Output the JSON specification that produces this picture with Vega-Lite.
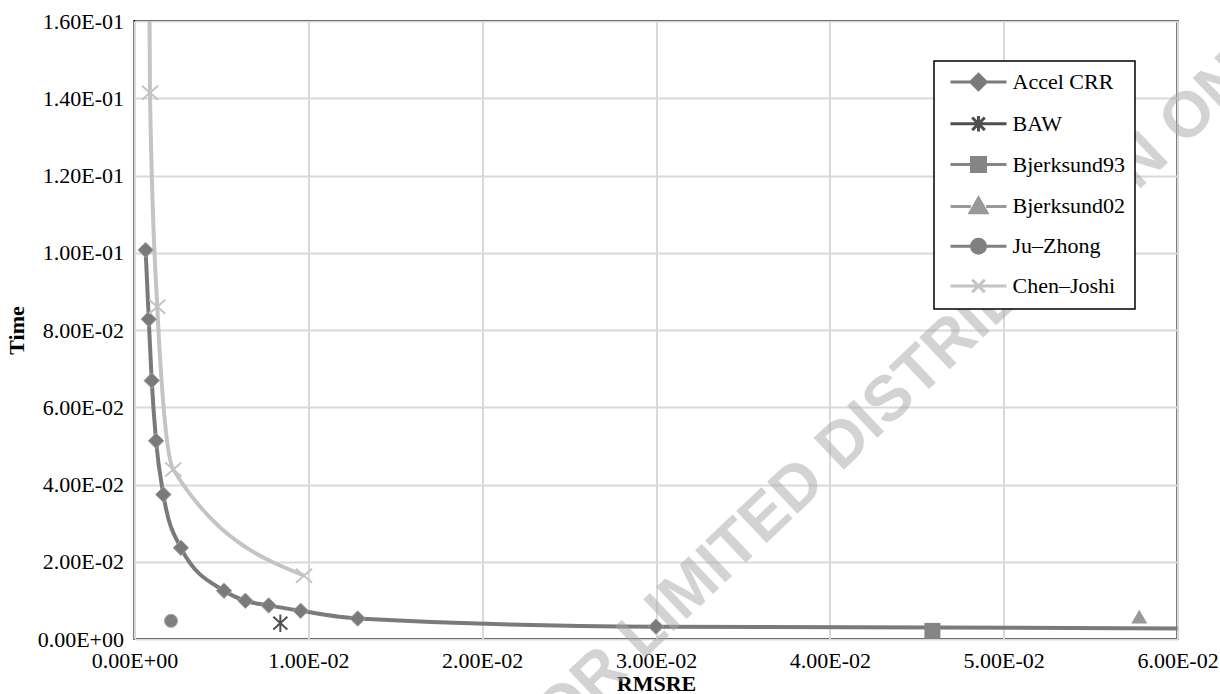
{
  "$schema": "https://vega.github.io/schema/vega-lite/v6.json",
  "width": 1043,
  "height": 618,
  "autosize": "none",
  "padding": {"left": 134.5, "top": 21, "right": 42.5, "bottom": 55},
  "background": "white",
  "config": {
    "view": {"stroke": "black", "strokeWidth": 2},
    "font": "Liberation Serif",
    "legend": {"labelFont": "Liberation Serif", "labelFontSize": 22, "labelColor": "black", "labelFontWeight": "normal"}
  },
  "datasets": {
    "pts": [
      {"series": "Accel CRR", "rmsre": 0.00064, "time": 0.1007},
      {"series": "Accel CRR", "rmsre": 0.00082, "time": 0.0828},
      {"series": "Accel CRR", "rmsre": 0.00099, "time": 0.0669},
      {"series": "Accel CRR", "rmsre": 0.00124, "time": 0.0513},
      {"series": "Accel CRR", "rmsre": 0.00166, "time": 0.0374},
      {"series": "Accel CRR", "rmsre": 0.00267, "time": 0.0236},
      {"series": "Accel CRR", "rmsre": 0.00515, "time": 0.0125},
      {"series": "Accel CRR", "rmsre": 0.00638, "time": 0.0099},
      {"series": "Accel CRR", "rmsre": 0.00772, "time": 0.0087},
      {"series": "Accel CRR", "rmsre": 0.00956, "time": 0.0073},
      {"series": "Accel CRR", "rmsre": 0.01284, "time": 0.0053},
      {"series": "Accel CRR", "rmsre": 0.0300, "time": 0.0032},
      {"series": "Accel CRR", "rmsre": 0.0900, "time": 0.0024},
      {"series": "BAW", "rmsre": 0.00839, "time": 0.0041},
      {"series": "Bjerksund93", "rmsre": 0.0459, "time": 0.0021},
      {"series": "Bjerksund02", "rmsre": 0.0578, "time": 0.0058},
      {"series": "Ju–Zhong", "rmsre": 0.0021, "time": 0.0047},
      {"series": "Chen–Joshi", "rmsre": 0.00083, "time": 0.19},
      {"series": "Chen–Joshi", "rmsre": 0.00089, "time": 0.1414},
      {"series": "Chen–Joshi", "rmsre": 0.00131, "time": 0.0860},
      {"series": "Chen–Joshi", "rmsre": 0.00223, "time": 0.0439},
      {"series": "Chen–Joshi", "rmsre": 0.00975, "time": 0.0164}
    ],
    "mark": [
      {"rmsre": 0.04443, "time": 0.06607, "label": "FOR LIMITED DISTRIBUTION ONLY"}
    ]
  },
  "encoding": {
    "x": {
      "field": "rmsre", "type": "quantitative",
      "scale": {"domain": [0, 0.06], "nice": false, "zero": false},
      "axis": {
        "title": "RMSRE",
        "values": [0, 0.01, 0.02, 0.03, 0.04, 0.05, 0.06],
        "labelExpr": "replace(replace(format(datum.value, '.2e'), 'e-', 'E-0'), 'e+', 'E+0')",
        "grid": true, "gridColor": "#d9d9d9", "gridWidth": 2,
        "ticks": false, "domain": false,
        "labelFont": "Liberation Serif", "labelFontSize": 22, "labelColor": "black",
        "labelPadding": 11, "labelFlush": false, "labelOverlap": false,
        "titleFont": "Liberation Serif", "titleFontSize": 22, "titleFontWeight": "bold",
        "titleColor": "black", "titlePadding": 2
      }
    },
    "y": {
      "field": "time", "type": "quantitative",
      "scale": {"domain": [0, 0.16], "nice": false, "zero": false},
      "axis": {
        "title": "Time",
        "values": [0, 0.02, 0.04, 0.06, 0.08, 0.1, 0.12, 0.14, 0.16],
        "labelExpr": "replace(replace(format(datum.value, '.2e'), 'e-', 'E-0'), 'e+', 'E+0')",
        "grid": true, "gridColor": "#d9d9d9", "gridWidth": 2,
        "ticks": false, "domain": false,
        "labelFont": "Liberation Serif", "labelFontSize": 22, "labelColor": "black",
        "labelPadding": 11, "labelFlush": false, "labelOverlap": false,
        "titleFont": "Liberation Serif", "titleFontSize": 22, "titleFontWeight": "bold",
        "titleColor": "black", "titlePadding": 9
      }
    },
    "color": {
      "field": "series", "type": "nominal",
      "scale": {
        "domain": ["Accel CRR", "BAW", "Bjerksund93", "Bjerksund02", "Ju–Zhong", "Chen–Joshi"],
        "range": ["#7a7a7a", "#4f4f4f", "#858585", "#999999", "#808080", "#c4c4c4"]
      },
      "legend": {
        "title": null,
        "orient": "none",
        "legendX": 799.5,
        "legendY": 40,
        "padding": 10,
        "fillColor": "white",
        "strokeColor": "black",
        "labelFont": "Liberation Serif",
        "labelFontSize": 22,
        "labelColor": "black",
        "labelLimit": 300,
        "labelOffset": 23,
        "symbolOffset": 23.5,
        "symbolSize": 196,
        "symbolStrokeWidth": 3,
        "rowPadding": 13.8,
        "encode": {
          "legend": {"update": {"strokeWidth": {"value": 1.5}}},
          "labels": {"update": {"font": {"value": "Liberation Serif"}, "fontSize": {"value": 22}, "fill": {"value": "black"}}},
          "symbols": {
            "update": {
              "shape": {"signal": "datum.value === 'Accel CRR' ? 'M-4,0H-1M1,0H4M0,-1.1L1.1,0L0,1.1L-1.1,0Z' : datum.value === 'BAW' ? 'M-4,0H4M-0.9,-0.9L0.9,0.9M-0.9,0.9L0.9,-0.9M0,-1.1V1.1' : datum.value === 'Bjerksund93' ? 'M-4,0H-1M1,0H4M-1,-1H1V1H-1Z' : datum.value === 'Bjerksund02' ? 'M-4,0H-1.1M1.1,0H4M0,-1.2L1.2,0.9H-1.2Z' : datum.value === 'Ju–Zhong' ? 'M-4,0H-1M1,0H4M1,0A1,1,0,1,1,-1,0A1,1,0,1,1,1,0Z' : 'M-4,0H4M-0.9,-0.9L0.9,0.9M-0.9,0.9L0.9,-0.9'"},
              "fill": {"signal": "datum.value === 'BAW' || datum.value === 'Chen–Joshi' ? 'transparent' : scale('color', datum.value)"},
              "stroke": {"signal": "scale('color', datum.value)"},
              "strokeWidth": {"value": 3},
              "size": {"value": 196},
              "opacity": {"value": 1}
            }
          }
        }
      }
    }
  },
  "layer": [
    {
      "data": {"name": "pts"},
      "transform": [{"filter": "datum.series === 'Accel CRR' || datum.series === 'Chen–Joshi'"}],
      "mark": {"type": "line", "interpolate": "monotone", "strokeWidth": 4, "clip": true}
    },
    {
      "data": {"name": "pts"},
      "transform": [{"filter": "datum.series === 'Accel CRR' && datum.rmsre <= 0.06"}],
      "mark": {"type": "point", "shape": "diamond", "size": 240, "filled": true, "opacity": 1, "stroke": "#a3a3a3", "strokeWidth": 1}
    },
    {
      "data": {"name": "pts"},
      "transform": [{"filter": "datum.series === 'Bjerksund93'"}],
      "mark": {"type": "point", "shape": "square", "size": 256, "filled": true, "opacity": 1}
    },
    {
      "data": {"name": "pts"},
      "transform": [{"filter": "datum.series === 'Bjerksund02'"}],
      "mark": {"type": "point", "shape": "triangle-up", "size": 256, "filled": true, "opacity": 1}
    },
    {
      "data": {"name": "pts"},
      "transform": [{"filter": "datum.series === 'Ju–Zhong'"}],
      "mark": {"type": "point", "shape": "circle", "size": 170, "filled": true, "opacity": 1, "stroke": "#a3a3a3", "strokeWidth": 1}
    },
    {
      "data": {"name": "pts"},
      "transform": [{"filter": "datum.series === 'BAW'"}],
      "mark": {"type": "point", "shape": "M-1,-0.9L1,0.9M-1,0.9L1,-0.9M0,-1.25V1.25", "size": 196, "filled": false, "opacity": 1, "strokeWidth": 2}
    },
    {
      "data": {"name": "pts"},
      "transform": [{"filter": "datum.series === 'Chen–Joshi' && datum.time <= 0.16"}],
      "mark": {"type": "point", "shape": "M-1.15,-1L1.15,1M-1.15,1L1.15,-1", "size": 196, "filled": false, "opacity": 1, "strokeWidth": 2}
    },
    {
      "data": {"name": "mark"},
      "mark": {
        "type": "text", "angle": -43.5, "align": "center", "baseline": "middle",
        "font": "Liberation Sans", "fontWeight": "bold", "fontSize": 64,
        "fill": "#a8a8a8", "opacity": 0.5, "clip": false
      },
      "encoding": {"text": {"field": "label"}, "color": {"value": "#a8a8a8"}}
    }
  ]
}
